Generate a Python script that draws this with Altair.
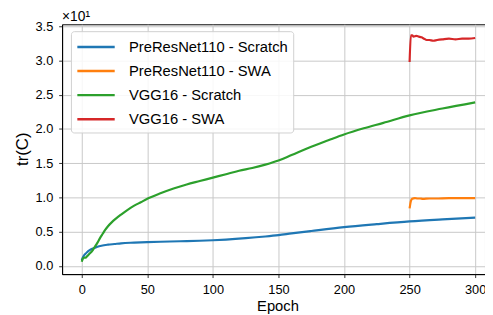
import altair as alt
import pandas as pd

series_names = ["PreResNet110 - Scratch", "PreResNet110 - SWA", "VGG16 - Scratch", "VGG16 - SWA"]
series_colors = ["#1f77b4", "#ff7f0e", "#2ca02c", "#d62728"]

# values are in units of 10^1
pre_scratch_epoch = [0, 1, 2, 3, 4, 6, 8, 10, 12, 15, 20, 25, 30, 40, 50, 60, 75, 90, 100, 110, 125, 140, 150, 160, 175, 200, 225, 250, 275, 300]
pre_scratch_val = [0.08, 0.13, 0.16, 0.18, 0.2, 0.23, 0.25, 0.265, 0.28, 0.295, 0.31, 0.32, 0.33, 0.34, 0.348, 0.353, 0.36, 0.368, 0.375, 0.385, 0.405, 0.43, 0.45, 0.475, 0.51, 0.566, 0.61, 0.65, 0.68, 0.706]

pre_swa_epoch = [250, 251, 252, 254, 256, 258, 260, 265, 270, 280, 290, 300]
pre_swa_val = [0.84, 0.95, 0.98, 0.99, 0.985, 0.985, 0.98, 0.985, 0.985, 0.99, 0.99, 0.99]

vgg_scratch_epoch = [0, 1, 2, 3, 4, 5, 6, 8, 10, 12, 14, 16, 18, 20, 23, 26, 30, 35, 40, 45, 50, 60, 70, 80, 90, 100, 110, 120, 130, 140, 150, 160, 175, 190, 200, 215, 230, 250, 275, 300]
vgg_scratch_val = [0.06, 0.11, 0.12, 0.12, 0.14, 0.16, 0.18, 0.22, 0.28, 0.34, 0.41, 0.47, 0.53, 0.58, 0.64, 0.69, 0.75, 0.82, 0.88, 0.93, 0.98, 1.06, 1.13, 1.19, 1.24, 1.29, 1.34, 1.39, 1.43, 1.48, 1.54, 1.62, 1.74, 1.85, 1.92, 2.01, 2.09, 2.2, 2.3, 2.39]

vgg_swa_epoch = [250, 251, 252, 253, 255, 257, 259, 261, 263, 265, 268, 271, 275, 280, 285, 290, 295, 300]
vgg_swa_val = [2.98, 3.37, 3.37, 3.35, 3.36, 3.35, 3.34, 3.32, 3.30, 3.30, 3.29, 3.30, 3.31, 3.32, 3.31, 3.32, 3.32, 3.33]

x_ticks = [0, 50, 100, 150, 200, 250, 300]
y_ticks = [0.0, 0.5, 1.0, 1.5, 2.0, 2.5, 3.0, 3.5]

frames = []
for name, ep, val in [
    (series_names[0], pre_scratch_epoch, pre_scratch_val),
    (series_names[1], pre_swa_epoch, pre_swa_val),
    (series_names[2], vgg_scratch_epoch, vgg_scratch_val),
    (series_names[3], vgg_swa_epoch, vgg_swa_val),
]:
    frames.append(pd.DataFrame({"epoch": ep, "value": val, "series": name}))
df = pd.concat(frames, ignore_index=True)

FONT = "Liberation Sans"

chart = alt.Chart(df).mark_line(strokeWidth=2.2, interpolate="monotone").encode(
    x=alt.X("epoch:Q",
            scale=alt.Scale(domain=[-15, 307.5], nice=False, zero=False),
            axis=alt.Axis(values=x_ticks, title="Epoch", format="d",
                          titleX=219, titleY=37, titleBaseline="alphabetic",
                          titleFontSize=15)),
    y=alt.Y("value:Q",
            scale=alt.Scale(domain=[-0.12, 3.53], nice=False, zero=False),
            axis=alt.Axis(values=y_ticks, format=".1f", title="tr(C)",
                          titleX=-35, titleY=126.5, titleAngle=270,
                          titleBaseline="alphabetic", titleAlign="center",
                          titleFontSize=17)),
    color=alt.Color("series:N",
                    scale=alt.Scale(domain=series_names, range=series_colors),
                    legend=alt.Legend(title=None, orient="none", legendX=9, legendY=7,
                                      symbolType="M-1,0H3", symbolSize=361,
                                      symbolStrokeWidth=2.5, labelFontSize=15,
                                      labelFont=FONT, labelOffset=32, labelLimit=400,
                                      rowPadding=5.5, padding=5,
                                      fillColor="rgba(255,255,255,0.85)",
                                      strokeColor="#d0d0d0", cornerRadius=3)),
    order=alt.Order("epoch:Q"),
).properties(
    width=430,
    height=254,
    title=alt.TitleParams(text="×10¹", anchor="start", frame="group", fontSize=14,
                          font=FONT, fontWeight="normal", offset=0, dy=4, color="black"),
    autosize=alt.AutoSizeParams(type="none"),
    padding={"left": 55, "top": 14, "right": 0, "bottom": 39},
).configure_view(
    stroke="black", strokeWidth=1
).configure_axis(
    labelFont=FONT, labelFontSize=13, labelColor="black",
    titleFont=FONT, titleFontWeight="normal", titleColor="black",
    grid=True, gridColor="#c8c8c8", gridWidth=1,
    domainColor="black", domainWidth=1,
    tickColor="#333333", tickSize=3.5, labelPadding=6,
)

chart.save("out.html", embed_options={"renderer": "svg", "actions": False})
